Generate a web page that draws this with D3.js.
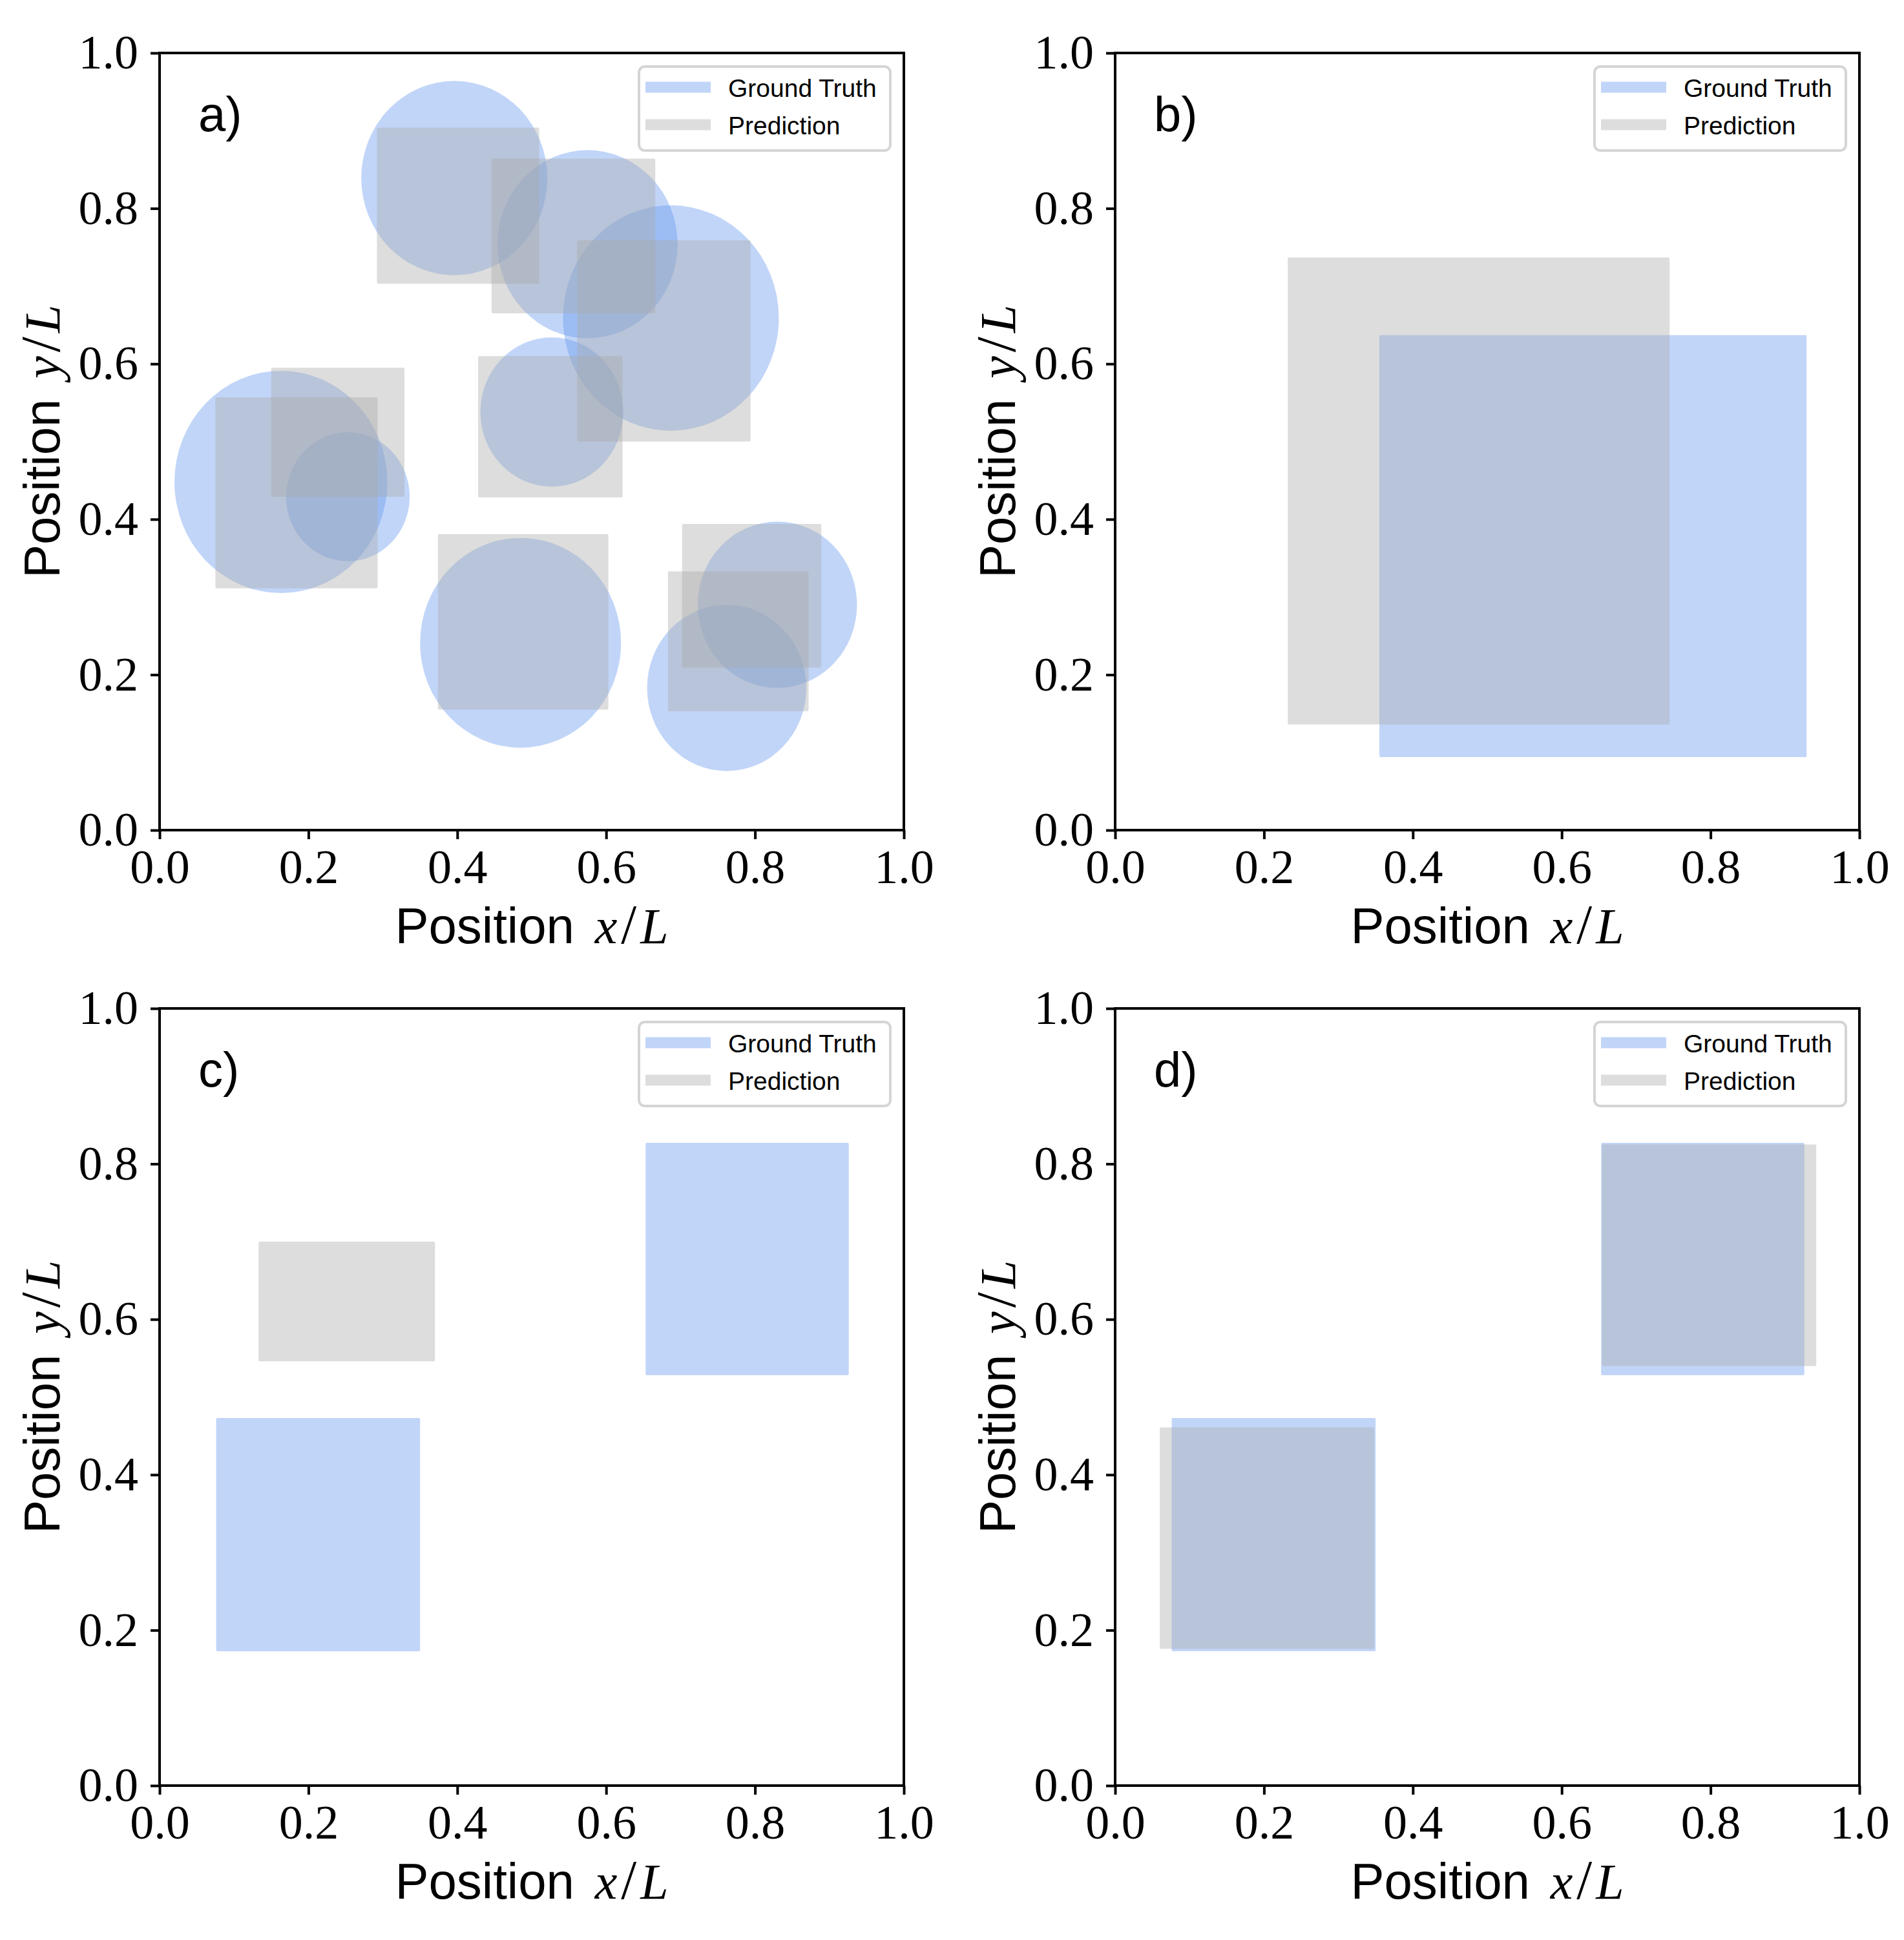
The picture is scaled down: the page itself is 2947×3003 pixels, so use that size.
<!DOCTYPE html>
<html>
<head>
<meta charset="utf-8">
<script src="https://cdn.jsdelivr.net/npm/d3@7"></script>
<style>
  body { margin: 0; background: #fff; }
  .tick text { font-family: "Liberation Serif", serif; font-size: 74px; fill: #000; }
  .sans { font-family: "Liberation Sans", "DejaVu Sans", sans-serif; }
  .math { font-family: "Liberation Serif", serif; }
</style>
</head>
<body>
<div id="wrapper"></div>
<script>
// ground truth / prediction shapes, in units of L
const panelNames = ["a)", "b)", "c)", "d)"]
const tickValues = [0.0, 0.2, 0.4, 0.6, 0.8, 1.0]
const legendLabels = ["Ground Truth", "Prediction"]

// panel a: circles [cx, cy, r], predicted boxes [x0, y0, x1, y1]
const truthCirclesA = [
  [0.396, 0.839, 0.125],
  [0.575, 0.754, 0.121],
  [0.687, 0.659, 0.145],
  [0.527, 0.538, 0.096],
  [0.163, 0.448, 0.143],
  [0.253, 0.429, 0.083],
  [0.485, 0.241, 0.135],
  [0.762, 0.183, 0.107],
  [0.830, 0.290, 0.107]
]
const predBoxesA = [
  [0.292, 0.703, 0.510, 0.904],
  [0.446, 0.665, 0.666, 0.864],
  [0.561, 0.500, 0.794, 0.759],
  [0.428, 0.428, 0.622, 0.610],
  [0.075, 0.311, 0.293, 0.557],
  [0.150, 0.429, 0.329, 0.595],
  [0.374, 0.155, 0.603, 0.381],
  [0.683, 0.153, 0.872, 0.333],
  [0.702, 0.209, 0.889, 0.394]
]

// panel b
const truthBoxesB = [[0.355, 0.094, 0.929, 0.637]]
const predBoxesB = [[0.232, 0.136, 0.745, 0.737]]

// panel c
const truthBoxesC = [
  [0.076, 0.173, 0.350, 0.473],
  [0.653, 0.528, 0.926, 0.827]
]
const predBoxesC = [[0.133, 0.546, 0.370, 0.700]]

// panel d
const truthBoxesD = [
  [0.076, 0.173, 0.350, 0.473],
  [0.653, 0.528, 0.926, 0.827]
]
const predBoxesD = [
  [0.060, 0.176, 0.348, 0.461],
  [0.654, 0.540, 0.942, 0.825]
]

const truthColor = "cornflowerblue"
const predColor = "darkgray"
const alpha = 0.4

const width = 2947
const height = 3003
const axW = 1152
const axH = 1203
const lefts = [247, 1726]
const tops = [82, 1561]

const svg = d3.select("#wrapper")
  .append("svg")
    .attr("width", width)
    .attr("height", height)

const panels = [
  {name: panelNames[0], circles: truthCirclesA, truth: [], pred: predBoxesA, left: lefts[0], top: tops[0]},
  {name: panelNames[1], circles: [], truth: truthBoxesB, pred: predBoxesB, left: lefts[1], top: tops[0]},
  {name: panelNames[2], circles: [], truth: truthBoxesC, pred: predBoxesC, left: lefts[0], top: tops[1]},
  {name: panelNames[3], circles: [], truth: truthBoxesD, pred: predBoxesD, left: lefts[1], top: tops[1]}
]

// "Position v/L" with the fraction set like TeX math
function axisLabel(text, v) {
  text.append("tspan").attr("class", "sans").text("Position ")
  text.append("tspan").attr("class", "math").attr("font-style", "italic").attr("dx", 10).text(v)
  text.append("tspan").attr("class", "math").attr("dx", 6).attr("font-size", 86).text("/")
  text.append("tspan").attr("class", "math").attr("font-style", "italic").attr("dx", 6).text("L")
}

function drawPanel(p) {
  const bounds = svg.append("g")
    .attr("transform", `translate(${p.left},${p.top})`)

  const xScale = d3.scaleLinear().domain([0, 1]).range([0, axW])
  const yScale = d3.scaleLinear().domain([0, 1]).range([axH, 0])

  const clip = "clip-" + p.name[0]
  bounds.append("clipPath").attr("id", clip)
    .append("rect").attr("width", axW).attr("height", axH)

  const marks = bounds.append("g").attr("clip-path", `url(#${clip})`)

  marks.selectAll("ellipse")
    .data(p.circles)
    .enter().append("ellipse")
      .attr("cx", d => xScale(d[0]))
      .attr("cy", d => yScale(d[1]))
      .attr("rx", d => xScale(d[2]) - xScale(0))
      .attr("ry", d => yScale(0) - yScale(d[2]))
      .attr("fill", truthColor)
      .attr("fill-opacity", alpha)

  marks.selectAll("rect.truth")
    .data(p.truth)
    .enter().append("rect")
      .attr("class", "truth")
      .attr("x", d => xScale(d[0]))
      .attr("y", d => yScale(d[3]))
      .attr("width", d => xScale(d[2]) - xScale(d[0]))
      .attr("height", d => yScale(d[1]) - yScale(d[3]))
      .attr("rx", 2)
      .attr("fill", truthColor)
      .attr("fill-opacity", alpha)

  marks.selectAll("rect.pred")
    .data(p.pred)
    .enter().append("rect")
      .attr("class", "pred")
      .attr("x", d => xScale(d[0]))
      .attr("y", d => yScale(d[3]))
      .attr("width", d => xScale(d[2]) - xScale(d[0]))
      .attr("height", d => yScale(d[1]) - yScale(d[3]))
      .attr("rx", 2)
      .attr("fill", predColor)
      .attr("fill-opacity", alpha)

  const fmt = d3.format(".1f")

  const xAxis = bounds.append("g")
    .attr("transform", `translate(0,${axH})`)
    .call(d3.axisBottom(xScale).tickValues(tickValues).tickFormat(fmt)
      .tickSize(14).tickSizeOuter(0).tickPadding(15))
  const yAxis = bounds.append("g")
    .call(d3.axisLeft(yScale).tickValues(tickValues).tickFormat(fmt)
      .tickSize(14).tickSizeOuter(0).tickPadding(19))

  ;[xAxis, yAxis].forEach(ax => {
    ax.attr("font-family", null).attr("font-size", null)
    ax.select(".domain").remove()
    ax.selectAll(".tick line").attr("stroke", "#000").attr("stroke-width", 4)
  })

  // spines
  bounds.append("rect")
    .attr("width", axW)
    .attr("height", axH)
    .attr("fill", "none")
    .attr("stroke", "#000")
    .attr("stroke-width", 4)

  // axis labels
  bounds.append("text")
    .attr("x", axW / 2)
    .attr("y", axH + 175)
    .attr("text-anchor", "middle")
    .attr("font-size", 78)
    .call(axisLabel, "x")

  bounds.append("text")
    .attr("transform", `translate(${92 - 247},${axH / 2}) rotate(-90)`)
    .attr("text-anchor", "middle")
    .attr("font-size", 78)
    .call(axisLabel, "y")

  // panel tag
  bounds.append("text")
    .attr("class", "sans")
    .attr("x", 60)
    .attr("y", 121)
    .attr("font-size", 76)
    .text(p.name)

  // legend
  const legend = bounds.append("g")
    .attr("transform", `translate(${axW - 21 - 389},21)`)
  legend.append("rect")
    .attr("width", 389)
    .attr("height", 130)
    .attr("rx", 9)
    .attr("fill", "#fff")
    .attr("fill-opacity", 0.8)
    .attr("stroke", "#d5d5d5")
    .attr("stroke-width", 4)

  const entries = legend.selectAll("g.entry")
    .data(legendLabels)
    .enter().append("g")
      .attr("class", "entry")
      .attr("transform", (d, i) => `translate(0,${32 + i * 58})`)
  entries.append("line")
    .attr("x1", 10)
    .attr("x2", 111)
    .attr("stroke", (d, i) => i === 0 ? truthColor : predColor)
    .attr("stroke-opacity", alpha)
    .attr("stroke-width", 17)
  entries.append("text")
    .attr("class", "sans")
    .attr("x", 138)
    .attr("y", 15)
    .attr("font-size", 39)
    .text(d => d)
}

panels.forEach(drawPanel)
</script>
</body>
</html>
